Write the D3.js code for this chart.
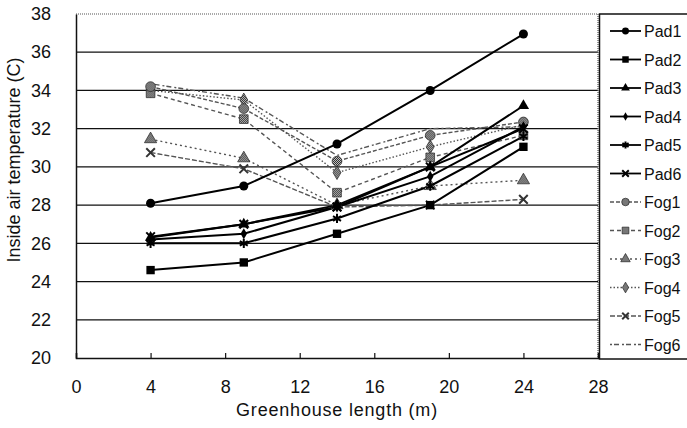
<!DOCTYPE html>
<html>
<head>
<meta charset="utf-8">
<script src="https://cdn.jsdelivr.net/npm/d3@7"></script>
<style>
  body { margin: 0; background: #fff; }
  text { font-family: "Liberation Sans", Arial, sans-serif; fill: #111; }
</style>
</head>
<body>
<div id="chart-area"></div>
<script>
// data
const lengths = [4, 9, 14, 19, 24]
const pad1 = [28.1, 29.0, 31.2, 34.0, 36.95]
const pad2 = [24.6, 25.0, 26.5, 28.0, 31.05]
const pad3 = [26.3, 27.0, 28.0, 30.0, 33.2]
const pad4 = [26.2, 26.5, 27.9, 29.5, 32.1]
const pad5 = [26.0, 26.0, 27.3, 29.0, 31.6]
const pad6 = [26.35, 27.0, 27.9, 30.0, 32.0]
const fog1 = [34.2, 33.05, 30.3, 31.65, 32.35]
const fog2 = [33.85, 32.5, 28.65, 30.5, 31.65]
const fog3 = [31.45, 30.45, 28.0, 29.0, 29.3]
const fog4 = [34.0, 33.5, 29.7, 31.05, 32.2]
const fog5 = [30.75, 29.9, 27.9, 28.0, 28.3]
const fog6 = [34.35, 33.6, 30.6, 32.0, 32.1]
const xTicks = [0, 4, 8, 12, 16, 20, 24, 28]
const yTicks = [20, 22, 24, 26, 28, 30, 32, 34, 36, 38]

const series = [
  { name: "Pad1", values: pad1, sym: d3.symbolCircle, size: 64, fill: "#000", dash: null },
  { name: "Pad2", values: pad2, sym: d3.symbolSquare, size: 70, fill: "#000", dash: null },
  { name: "Pad3", values: pad3, sym: d3.symbolTriangle, size: 55, fill: "#000", dash: null },
  { name: "Pad4", values: pad4, sym: d3.symbolDiamond, size: 36, fill: "#000", dash: null },
  { name: "Pad5", values: pad5, sym: d3.symbolAsterisk, size: 60, stroke: true, dash: null },
  { name: "Pad6", values: pad6, sym: d3.symbolTimes, size: 50, stroke: true, dash: null },
  { name: "Fog1", values: fog1, sym: d3.symbolCircle, size: 75, fill: "url(#hatch)", dash: "4,2", fog: true },
  { name: "Fog2", values: fog2, sym: d3.symbolSquare, size: 75, fill: "url(#hatch)", dash: "4,3", fog: true },
  { name: "Fog3", values: fog3, sym: d3.symbolTriangle, size: 65, fill: "url(#hatch)", dash: "2,3", fog: true },
  { name: "Fog4", values: fog4, sym: d3.symbolDiamond, size: 55, fill: "url(#hatch)", dash: "1.5,2", fog: true },
  { name: "Fog5", values: fog5, sym: d3.symbolTimes, size: 50, stroke: true, dash: "5,2", fog: true },
  { name: "Fog6", values: fog6, sym: null, dash: "2,2,5,3", fog: true }
]

const MARGIN = { LEFT: 76, RIGHT: 89, TOP: 14, BOTTOM: 70 }
const W = 687, H = 428
const WIDTH = W - MARGIN.LEFT - MARGIN.RIGHT
const HEIGHT = H - MARGIN.TOP - MARGIN.BOTTOM

const svg = d3.select("#chart-area").append("svg")
  .attr("width", W)
  .attr("height", H)

// checker hatch for fog markers
const pat = svg.append("defs").append("pattern")
  .attr("id", "hatch")
  .attr("patternUnits", "userSpaceOnUse")
  .attr("width", 2).attr("height", 2)
pat.append("rect").attr("width", 2).attr("height", 2).attr("fill", "#ddd")
pat.append("rect").attr("width", 1).attr("height", 1).attr("fill", "#111")
pat.append("rect").attr("x", 1).attr("y", 1).attr("width", 1).attr("height", 1).attr("fill", "#111")

const g = svg.append("g")
  .attr("transform", `translate(${MARGIN.LEFT}, ${MARGIN.TOP})`)

const x = d3.scaleLinear().domain([0, 28]).range([0, WIDTH])
const y = d3.scaleLinear().domain([20, 38]).range([HEIGHT, 0])

// grid lines
g.append("g")
  .selectAll("line")
  .data(yTicks.filter(v => v > 20 && v < 38))
  .enter().append("line")
  .attr("x1", 0).attr("x2", WIDTH)
  .attr("y1", d => y(d)).attr("y2", d => y(d))
  .attr("stroke", "#111")
  .attr("stroke-width", 1.3)

// dotted top and right frame
g.append("line")
  .attr("x1", 0).attr("x2", WIDTH).attr("y1", 0).attr("y2", 0)
  .attr("stroke", "#555").attr("stroke-width", 1.2).attr("stroke-dasharray", "1,1")
g.append("line")
  .attr("x1", WIDTH).attr("x2", WIDTH).attr("y1", 0).attr("y2", HEIGHT)
  .attr("stroke", "#555").attr("stroke-width", 1.2).attr("stroke-dasharray", "1,1")

// axes
const xAxisCall = d3.axisBottom(x).tickValues(xTicks).tickSize(-5).tickPadding(22).tickFormat(d3.format("d"))
const xAxis = g.append("g")
  .attr("transform", `translate(0, ${HEIGHT})`)
  .call(xAxisCall)
xAxis.select(".domain").attr("stroke", "#111").attr("stroke-width", 1.5)
xAxis.selectAll(".tick line").attr("stroke", "#111").attr("stroke-width", 1.2)
xAxis.selectAll("text").attr("font-size", 18).attr("fill", "#111")

const yAxisCall = d3.axisLeft(y).tickValues(yTicks).tickSize(0).tickPadding(25).tickFormat(d3.format("d"))
const yAxis = g.append("g").call(yAxisCall)
yAxis.select(".domain").attr("stroke", "#111").attr("stroke-width", 1.5)
yAxis.selectAll("text").attr("font-size", 18).attr("fill", "#111")

// axis titles
svg.append("text")
  .attr("x", MARGIN.LEFT + WIDTH / 2)
  .attr("y", 416)
  .attr("text-anchor", "middle")
  .attr("font-size", 18)
  .attr("letter-spacing", 0.8)
  .text("Greenhouse length (m)")

svg.append("text")
  .attr("transform", `translate(20, 160) rotate(-90)`)
  .attr("text-anchor", "middle")
  .attr("font-size", 18)
  .text("Inside air temperature (C)")

// lines
const line = d3.line()
  .x((d, i) => x(lengths[i]))
  .y(d => y(d))

const lineColor = s => s.fog ? "#555" : "#000"

g.selectAll(".series-line")
  .data(series.slice().reverse())
  .enter().append("path")
  .attr("class", "series-line")
  .attr("d", s => line(s.values))
  .attr("fill", "none")
  .attr("stroke", lineColor)
  .attr("stroke-width", s => s.fog ? 1.4 : 2)
  .attr("stroke-dasharray", s => s.dash)

const drawMarker = (sel, s, size) => {
  if (!s.sym) return
  sel.append("path")
    .attr("d", d3.symbol().type(s.sym).size(size)())
    .attr("fill", s.stroke ? "none" : s.fill)
    .attr("stroke", s.stroke ? (s.fog ? "#333" : "#000") : (s.fog ? "#222" : "none"))
    .attr("stroke-width", s.stroke ? 2 : 0.7)
}

series.slice().reverse().forEach(s => {
  s.values.forEach((v, i) => {
    const m = g.append("g").attr("transform", `translate(${x(lengths[i])}, ${y(v)})`)
    drawMarker(m, s, s.size)
  })
})

// legend
const legend = svg.append("g")
legend.append("rect")
  .attr("x", MARGIN.LEFT + WIDTH + 1.5)
  .attr("y", MARGIN.TOP)
  .attr("width", 120)
  .attr("height", HEIGHT + 1)
  .attr("fill", "#fff")
  .attr("stroke", "#111")
  .attr("stroke-width", 1.5)

const legendY = d3.scaleLinear().domain([0, 11]).range([31, 344.5])
series.forEach((s, i) => {
  const row = legend.append("g").attr("transform", `translate(0, ${legendY(i)})`)
  row.append("line")
    .attr("x1", 610).attr("x2", 641)
    .attr("stroke", lineColor(s))
    .attr("stroke-width", s.fog ? 1.3 : 1.8)
    .attr("stroke-dasharray", s.dash)
  const m = row.append("g").attr("transform", "translate(625.5, 0)")
  drawMarker(m, s, s.size * 0.6)
  row.append("text")
    .attr("x", 644)
    .attr("y", 6)
    .attr("font-size", 16)
    .text(s.name)
})
</script>
</body>
</html>
